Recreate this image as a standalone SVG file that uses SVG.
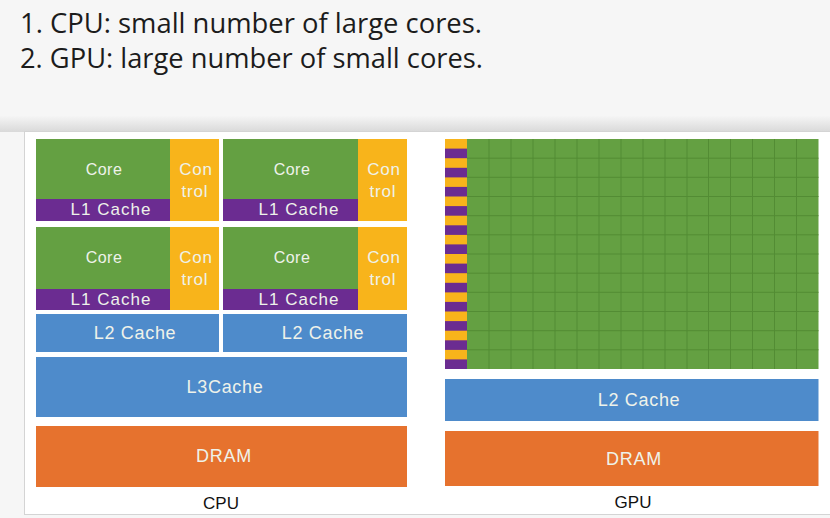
<svg xmlns="http://www.w3.org/2000/svg" width="830" height="518" viewBox="0 0 830 518">
  <defs>
    <linearGradient id="shadow" x1="0" y1="0" x2="0" y2="1">
      <stop offset="0" stop-color="#f5f5f5"/>
      <stop offset="1" stop-color="#d9d9d9"/>
    </linearGradient>
    <style>
      .title { font-family: "Open Sans", "Liberation Sans", sans-serif; font-size: 27px; fill: #1c1c1c; }
      .w { font-family: "Liberation Sans", Arial, sans-serif; fill: #eef2ea; text-anchor: middle; }
      .core { font-size: 16px; letter-spacing: 0.5px; }
      .ctl { font-size: 17px; letter-spacing: 0.8px; }
      .l1 { font-size: 17px; letter-spacing: 1px; }
      .big { font-size: 18px; letter-spacing: 0.7px; }
      .lbl { font-family: "Liberation Sans", Arial, sans-serif; font-size: 17px; fill: #111; text-anchor: middle; }
      .green { fill: #64a042; }
      .ctrl { fill: #f8b41b; }
      .purple { fill: #6b2c91; }
      .blue { fill: #4e8bcb; }
      .dram { fill: #e6722e; }
      .grid { stroke: #538c34; stroke-width: 1; fill: none; }
    </style>
  </defs>

  <rect x="0" y="0" width="830" height="518" fill="#f6f6f6"/>
  <rect x="0" y="116" width="830" height="16" fill="url(#shadow)"/>
  <rect x="24.5" y="131.5" width="810" height="383" fill="#ffffff" stroke="#d4d4d4"/>

  <g id="title">
    <text class="title" x="20" y="33" textLength="462" lengthAdjust="spacingAndGlyphs">1. CPU: small number of large cores.</text>
    <text class="title" x="20" y="68" textLength="463" lengthAdjust="spacingAndGlyphs">2. GPU: large number of small cores.</text>
  </g>

  <g id="cpu-core-1">
    <rect class="green" x="36" y="139" width="134" height="60"/>
    <rect class="purple" x="36" y="199" width="134" height="22"/>
    <rect class="ctrl" x="170" y="139" width="49" height="82"/>
    <text class="w core" x="104" y="175">Core</text>
    <text class="w l1" x="111" y="215">L1 Cache</text>
    <text class="w ctl" x="196" y="175">Con</text>
    <text class="w ctl" x="195" y="197">trol</text>
  </g>
  <g id="cpu-core-2">
    <rect class="green" x="223" y="139" width="135" height="60"/>
    <rect class="purple" x="223" y="199" width="135" height="22"/>
    <rect class="ctrl" x="358" y="139" width="49" height="82"/>
    <text class="w core" x="292" y="175">Core</text>
    <text class="w l1" x="299" y="215">L1 Cache</text>
    <text class="w ctl" x="384" y="175">Con</text>
    <text class="w ctl" x="383" y="197">trol</text>
  </g>
  <g id="cpu-core-3">
    <rect class="green" x="36" y="227" width="134" height="62"/>
    <rect class="purple" x="36" y="289" width="134" height="21"/>
    <rect class="ctrl" x="170" y="227" width="49" height="83"/>
    <text class="w core" x="104" y="263">Core</text>
    <text class="w l1" x="111" y="305">L1 Cache</text>
    <text class="w ctl" x="196" y="263">Con</text>
    <text class="w ctl" x="195" y="285">trol</text>
  </g>
  <g id="cpu-core-4">
    <rect class="green" x="223" y="227" width="135" height="62"/>
    <rect class="purple" x="223" y="289" width="135" height="21"/>
    <rect class="ctrl" x="358" y="227" width="49" height="83"/>
    <text class="w core" x="292" y="263">Core</text>
    <text class="w l1" x="299" y="305">L1 Cache</text>
    <text class="w ctl" x="384" y="263">Con</text>
    <text class="w ctl" x="383" y="285">trol</text>
  </g>
  <g id="cpu-l2-1">
    <rect class="blue" x="36" y="314" width="183" height="38"/>
    <text class="w big" x="135" y="339">L2 Cache</text>
  </g>
  <g id="cpu-l2-2">
    <rect class="blue" x="223" y="314" width="184" height="38"/>
    <text class="w big" x="323" y="339">L2 Cache</text>
  </g>
  <g id="cpu-l3">
    <rect class="blue" x="36" y="357" width="371" height="60"/>
    <text class="w big" x="225" y="393">L3Cache</text>
  </g>
  <g id="cpu-dram">
    <rect class="dram" x="36" y="426" width="371" height="61"/>
    <text class="w big" x="224" y="462">DRAM</text>
  </g>
  <g id="cpu-label">
    <text class="lbl" x="221" y="509">CPU</text>
  </g>

  <g id="gpu-cores">
    <rect class="ctrl" x="445" y="139" width="22" height="230"/>
    <g class="purple">
      <rect x="445" y="148.6" width="22" height="9.6"/>
      <rect x="445" y="167.8" width="22" height="9.6"/>
      <rect x="445" y="186.9" width="22" height="9.6"/>
      <rect x="445" y="206.1" width="22" height="9.6"/>
      <rect x="445" y="225.3" width="22" height="9.6"/>
      <rect x="445" y="244.4" width="22" height="9.6"/>
      <rect x="445" y="263.6" width="22" height="9.6"/>
      <rect x="445" y="282.8" width="22" height="9.6"/>
      <rect x="445" y="301.9" width="22" height="9.6"/>
      <rect x="445" y="321.1" width="22" height="9.6"/>
      <rect x="445" y="340.3" width="22" height="9.6"/>
      <rect x="445" y="359.4" width="22" height="9.6"/>
    </g>
    <rect class="green" x="467" y="139" width="351.5" height="230"/>
    <path class="grid" d="M489 139V369M511 139V369M533 139V369M555 139V369M577 139V369M599 139V369M621 139V369M643 139V369M665 139V369M687 139V369M708.5 139V369M730.5 139V369M752.5 139V369M774.5 139V369M796.5 139V369M467 158.2H818.5M467 177.3H818.5M467 196.5H818.5M467 215.7H818.5M467 234.8H818.5M467 254H818.5M467 273.2H818.5M467 292.3H818.5M467 311.5H818.5M467 330.7H818.5M467 349.8H818.5"/>
  </g>
  <g id="gpu-l2">
    <rect class="blue" x="445" y="379" width="373.5" height="42"/>
    <text class="w big" x="639" y="405.5">L2 Cache</text>
  </g>
  <g id="gpu-dram">
    <rect class="dram" x="445" y="431" width="373.5" height="55"/>
    <text class="w big" x="634" y="465">DRAM</text>
  </g>
  <g id="gpu-label">
    <text class="lbl" x="633" y="507.5">GPU</text>
  </g>
  <g id="connectors"/>
</svg>
